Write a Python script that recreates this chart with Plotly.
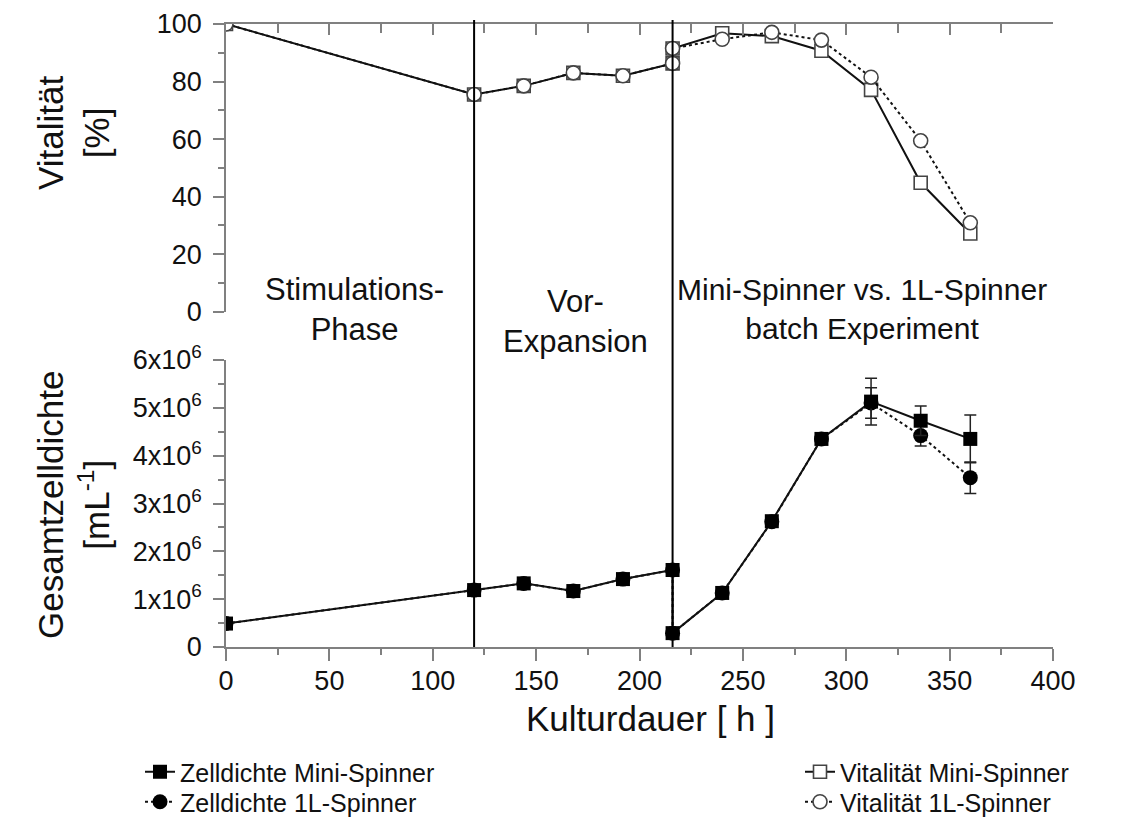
import plotly.graph_objects as go

# ---------------- data ----------------
t_pre = [0, 120, 144, 168, 192, 216]
t_batch = [216, 240, 264, 288, 312, 336, 360]

vit_pre = [100, 75.5, 78.5, 83.0, 82.0, 86.3]
vit_mini_batch = [91.5, 96.8, 95.8, 90.7, 77.1, 44.8, 27.2]
vit_1l_batch = [91.5, 94.7, 97.1, 94.4, 81.5, 59.4, 30.9]

zd_pre = [0.49e6, 1.19e6, 1.33e6, 1.17e6, 1.42e6, 1.61e6]
zd_pre_err = [0, 0, 0, 0, 0, 0]
zd_mini_batch = [0.29e6, 1.13e6, 2.63e6, 4.35e6, 5.13e6, 4.73e6, 4.35e6]
zd_mini_err = [0.03e6, 0.10e6, 0.06e6, 0.05e6, 0.49e6, 0.31e6, 0.50e6]
zd_1l_batch = [0.29e6, 1.13e6, 2.62e6, 4.35e6, 5.10e6, 4.42e6, 3.54e6]
zd_1l_err = [0.03e6, 0.08e6, 0.05e6, 0.05e6, 0.32e6, 0.22e6, 0.33e6]

phase_bounds = [120, 216]

x_ticks = [0, 50, 100, 150, 200, 250, 300, 350, 400]
x_minor = [25, 75, 125, 175, 225, 275, 325, 375]
vit_ticks = [0, 20, 40, 60, 80, 100]
vit_minor = [10, 30, 50, 70, 90]
zd_tickvals = [0, 1e6, 2e6, 3e6, 4e6, 5e6, 6e6]
zd_ticktext = ["0"] + [f"{i}x10<sup>6</sup>" for i in range(1, 7)]
zd_minor = [0.5e6, 1.5e6, 2.5e6, 3.5e6, 4.5e6, 5.5e6]

# ---------------- figure ----------------
W, H = 1127, 818
L, R, T, B = 226, 74, 24, 171
plot_h = H - T - B

def py(pix):
    return (H - B - pix) / plot_h

def px(pix):
    return (pix - L) / (W - L - R)

FONT = "Liberation Sans, Arial, sans-serif"
AX = "#808080"
INK = "#111111"
MK = "#444444"

fig = go.Figure()

t_all = t_pre + t_batch

# Vitalität (top panel, x2/y2)
fig.add_trace(go.Scatter(
    x=t_all, y=vit_pre + vit_mini_batch, xaxis="x2", yaxis="y2",
    mode="lines+markers", name="Vitalität Mini-Spinner",
    line=dict(color=INK, width=2),
    marker=dict(symbol="square", size=13, color="white", line=dict(width=1.6, color=MK)),
    legend="legend3",
))
fig.add_trace(go.Scatter(
    x=t_all, y=vit_pre + vit_1l_batch, xaxis="x2", yaxis="y2",
    mode="lines+markers", name="Vitalität 1L-Spinner",
    line=dict(color=INK, width=2, dash="dot"),
    marker=dict(symbol="circle", size=14, color="white", line=dict(width=1.6, color=MK)),
    legend="legend4",
))
# Zelldichte (bottom panel, x/y)
fig.add_trace(go.Scatter(
    x=t_all, y=zd_pre + zd_1l_batch,
    error_y=dict(type="data", array=zd_pre_err + zd_1l_err, color="#222222", thickness=1.5, width=6),
    mode="lines+markers", name="Zelldichte 1L-Spinner",
    line=dict(color=INK, width=2, dash="dot"),
    marker=dict(symbol="circle", size=15, color="#000000"),
    legend="legend2",
))
fig.add_trace(go.Scatter(
    x=t_all, y=zd_pre + zd_mini_batch,
    error_y=dict(type="data", array=zd_pre_err + zd_mini_err, color="#222222", thickness=1.5, width=6),
    mode="lines+markers", name="Zelldichte Mini-Spinner",
    line=dict(color=INK, width=2),
    marker=dict(symbol="square", size=14, color="#000000"),
    legend="legend",
))

# phase boundary lines
for b in phase_bounds:
    fig.add_shape(type="line", xref="x", yref="paper", x0=b, x1=b, y0=0, y1=py(20),
                  line=dict(color="#000000", width=2))

# phase labels
ann_font = dict(family=FONT, size=31, color=INK)
fig.add_annotation(text="Stimulations-<br>Phase", xref="x", yref="paper", x=62, y=py(309),
                   showarrow=False, font=ann_font, xanchor="center", yanchor="middle")
fig.add_annotation(text="Vor-<br>Expansion", xref="x", yref="paper", x=169, y=py(321),
                   showarrow=False, font=ann_font, xanchor="center", yanchor="middle")
fig.add_annotation(text="Mini-Spinner vs. 1L-Spinner<br>batch Experiment", xref="x", yref="paper",
                   x=307.5, y=py(309), showarrow=False, font=dict(family=FONT, size=30, color=INK),
                   xanchor="center", yanchor="middle")

# axis titles
ytitle_font = dict(family=FONT, size=35, color=INK)
fig.add_annotation(text="Vitalität<br>[%]", xref="paper", yref="paper", x=px(73), y=py(133),
                   textangle=-90, showarrow=False, font=ytitle_font, xanchor="center", yanchor="middle")
fig.add_annotation(text="Gesamtzelldichte<br>[mL<sup>-1</sup>]", xref="paper", yref="paper", x=px(73), y=py(505),
                   textangle=-90, showarrow=False, font=ytitle_font, xanchor="center", yanchor="middle")
fig.add_annotation(text="Kulturdauer [ h ]", xref="paper", yref="paper", x=px(650), y=py(718),
                   showarrow=False, font=dict(family=FONT, size=35, color=INK),
                   xanchor="center", yanchor="middle")

tick_font = dict(family=FONT, size=27, color=INK)
leg_font = dict(family=FONT, size=25, color=INK)

def leg(xpix, ypix):
    return dict(x=px(xpix), y=py(ypix), xanchor="left", yanchor="middle",
                font=leg_font, bgcolor="rgba(0,0,0,0)", itemwidth=30)

axis_common = dict(showline=True, linecolor=AX, linewidth=1.5, tickcolor=AX, tickwidth=1.5,
                   showgrid=False, zeroline=False)

fig.update_layout(
    width=W, height=H,
    margin=dict(l=L, r=R, t=T, b=B, autoexpand=False),
    paper_bgcolor="white", plot_bgcolor="white",
    xaxis=dict(domain=[0, 1], range=[0, 400], anchor="y", tickvals=x_ticks,
               ticks="outside", ticklen=12, tickfont=tick_font, ticklabelstandoff=-3,
               minor=dict(tickvals=x_minor, ticks="outside", ticklen=6,
                          tickcolor=AX, tickwidth=1.5, showgrid=False), **axis_common),
    yaxis=dict(domain=[0, py(360)], range=[0, 6e6], anchor="x",
               tickvals=zd_tickvals, ticktext=zd_ticktext,
               ticks="outside", ticklen=11, tickfont=tick_font, ticklabelstandoff=6,
               minor=dict(tickvals=zd_minor, ticks="outside", ticklen=6,
                          tickcolor=AX, tickwidth=1.5, showgrid=False), **axis_common),
    xaxis2=dict(domain=[0, 1], range=[0, 400], anchor="y2", side="top", matches="x",
                tickvals=x_ticks, showticklabels=False, ticks="inside", ticklen=11,
                minor=dict(tickvals=x_minor, ticks="inside", ticklen=9,
                           tickcolor=AX, tickwidth=1.5, showgrid=False), **axis_common),
    yaxis2=dict(domain=[py(311.7), 1], range=[0, 100], anchor="x2", tickvals=vit_ticks,
                ticks="outside", ticklen=11, tickfont=tick_font, ticklabelstandoff=6,
                minor=dict(tickvals=vit_minor, ticks="outside", ticklen=6,
                           tickcolor=AX, tickwidth=1.5, showgrid=False), **axis_common),
    legend=leg(140, 772),
    legend2=leg(140, 802),
    legend3=leg(800, 772),
    legend4=leg(800, 802),
    showlegend=True,
)

fig.write_html("out.html")
